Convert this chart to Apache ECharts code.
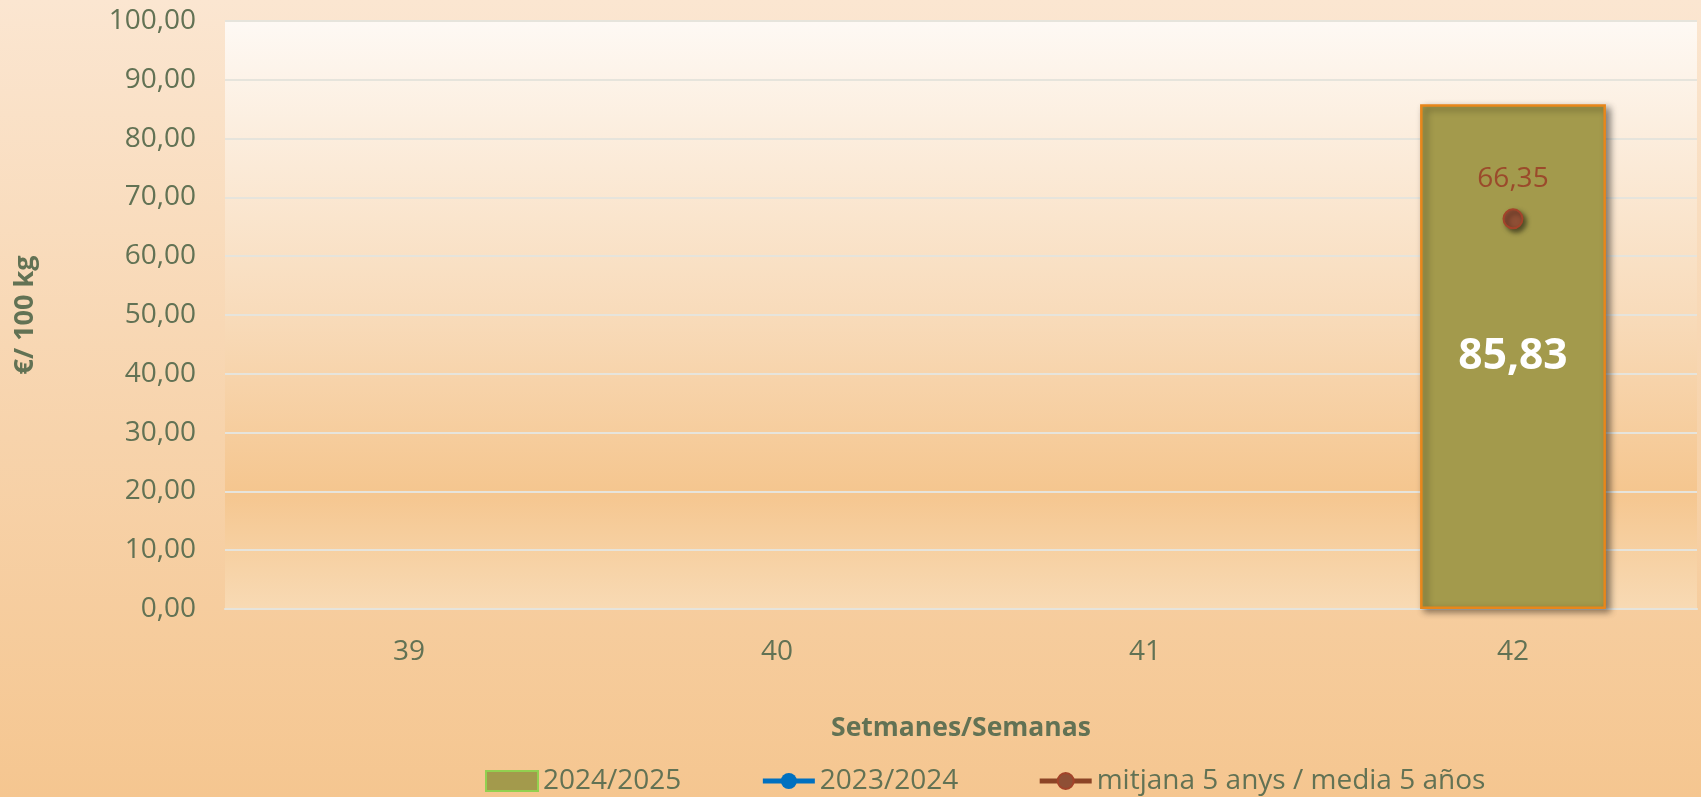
<!DOCTYPE html>
<html>
<head>
<meta charset="utf-8">
<script src="https://cdn.jsdelivr.net/npm/echarts@6/dist/echarts.min.js"></script>
<style>
html,body{margin:0;padding:0;width:1701px;height:797px;overflow:hidden;}
#c{width:1701px;height:797px;}
</style>
</head>
<body>
<div id="c"></div>
<script>
const categories = ['39', '40', '41', '42'];
const season2425 = [null, null, null, 85.83];
const season2324 = [null, null, null, null];
const media5 = [null, null, null, 66.35];
const seriesNames = ['2024/2025', '2023/2024', 'mitjana 5 anys / media 5 años'];
const yTitle = '€/ 100 kg';
const xTitle = 'Setmanes/Semanas';

const txt = '#627254';
const fmt = v => (v == null ? '' : Number(v).toFixed(2).replace('.', ','));
const font = '"Open Sans", "Noto Sans", sans-serif';

const chart = echarts.init(document.getElementById('c'));
chart.setOption({
  animation: false,
  backgroundColor: new echarts.graphic.LinearGradient(0, 0, 0, 1, [
    {offset: 0, color: '#fbe6d1'},
    {offset: 0.55, color: '#f7d3ab'},
    {offset: 1, color: '#f5c690'}
  ]),
  textStyle: {fontFamily: font},
  grid: {
    left: 225, right: 4, top: 21, bottom: 188,
    show: true, borderWidth: 0,
    backgroundColor: new echarts.graphic.LinearGradient(0, 0, 0, 1, [
      {offset: 0, color: '#fef9f4'},
      {offset: 0.5, color: '#f8dbba'},
      {offset: 0.8, color: '#f5c68f'},
      {offset: 1, color: '#f8dab4'}
    ])
  },
  legend: {
    left: 480, top: 762,
    itemWidth: 52, itemHeight: 20, itemGap: 79,
    textStyle: {color: txt, fontSize: 28, fontFamily: font},
    lineStyle: {width: 5},
    data: [
      {name: seriesNames[0], icon: 'rect', itemStyle: {color: '#a39a4c', borderColor: '#92d050', borderWidth: 2}},
      {name: seriesNames[1], lineStyle: {width: 5, color: '#0070c0'}},
      {name: seriesNames[2], lineStyle: {width: 5, color: '#8c4426'}}
    ]
  },
  xAxis: {
    type: 'category',
    data: categories,
    axisTick: {show: false},
    axisLine: {show: true, lineStyle: {color: '#e6e4dc', width: 2}},
    axisLabel: {color: txt, fontSize: 28, margin: 29, fontFamily: font},
    name: xTitle,
    nameLocation: 'middle',
    nameGap: 106,
    nameTextStyle: {color: txt, fontSize: 26.5, fontWeight: 'bold', fontFamily: font}
  },
  yAxis: {
    type: 'value',
    min: 0, max: 100, interval: 10,
    axisLine: {show: false},
    axisTick: {show: false},
    splitLine: {lineStyle: {color: '#e6e4dc', width: 2}},
    axisLabel: {color: txt, fontSize: 28, margin: 29, formatter: fmt, fontFamily: font},
    name: yTitle,
    nameLocation: 'middle',
    nameRotate: 90,
    nameGap: 186,
    nameTextStyle: {color: txt, fontSize: 27, fontWeight: 'bold', fontFamily: font}
  },
  series: [
    {
      name: seriesNames[0],
      type: 'bar',
      data: season2425,
      barWidth: '50.5%',
      itemStyle: {
        color: '#a39a4c', borderColor: '#e8861a', borderWidth: 2.5,
        shadowColor: 'rgba(0,0,0,0.45)', shadowBlur: 7, shadowOffsetX: 4, shadowOffsetY: 3
      },
      label: {
        show: true, position: 'inside', color: '#ffffff', fontSize: 42.5, fontWeight: 'bold',
        fontFamily: font, formatter: p => fmt(p.value)
      },
      z: 2
    },
    {
      name: seriesNames[1],
      type: 'line',
      data: season2324,
      symbol: 'circle', symbolSize: 18,
      lineStyle: {color: '#0070c0', width: 5},
      itemStyle: {color: '#0070c0'},
      z: 3
    },
    {
      name: seriesNames[2],
      type: 'line',
      data: media5,
      symbol: 'circle', symbolSize: 19,
      lineStyle: {color: '#8c4426', width: 5},
      itemStyle: {
        color: '#8f4f35', borderColor: '#a3432a', borderWidth: 2,
        shadowColor: 'rgba(0,0,0,0.5)', shadowBlur: 5, shadowOffsetX: 3, shadowOffsetY: 3
      },
      label: {
        show: true, position: 'top', distance: 15, color: '#9b4a2b', fontSize: 28,
        fontFamily: font, formatter: p => fmt(p.value)
      },
      z: 4
    }
  ]
});
</script>
</body>
</html>
